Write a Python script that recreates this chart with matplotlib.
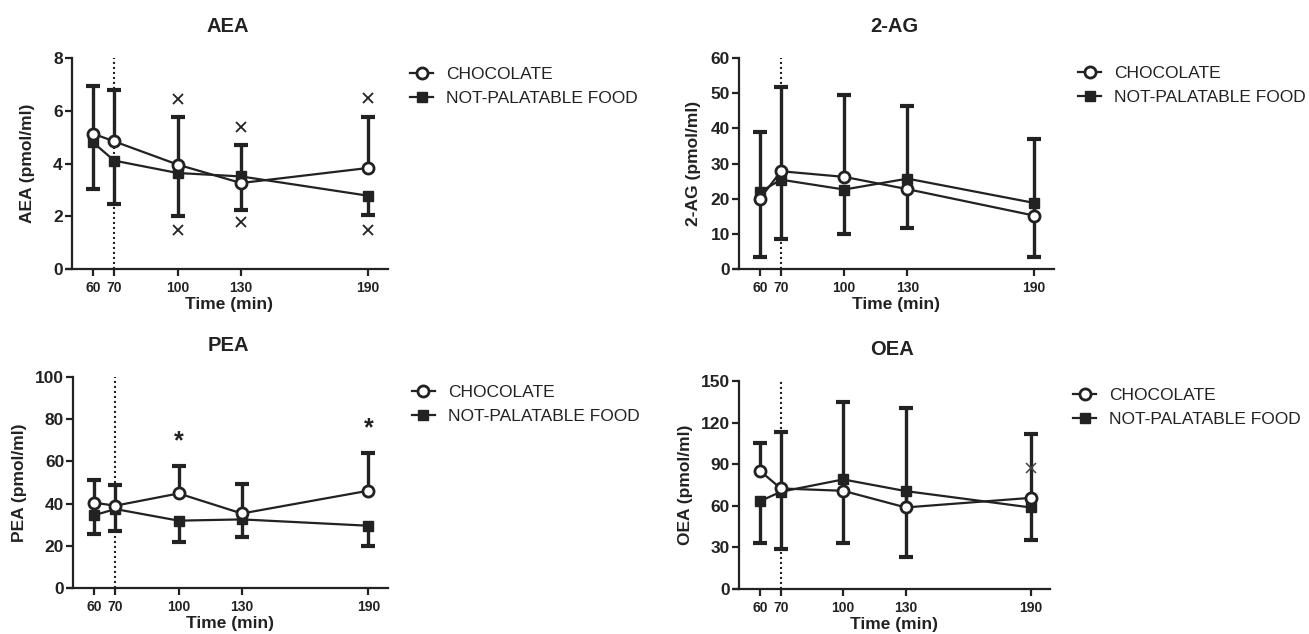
import numpy as np
import matplotlib
matplotlib.use("Agg")
import matplotlib.pyplot as plt

plt.rcParams["font.family"] = ["Liberation Sans", "DejaVu Sans"]

# shared x positions (sampling times)
times = [60, 70, 100, 130, 190]
tick_labels = ["60", "70", "100", "130", "190"]
series_names = ["CHOCOLATE", "NOT-PALATABLE FOOD"]

# AEA - chocolate error drawn upward, not-palatable error drawn downward
aea_choc = [5.13, 4.84, 3.96, 3.26, 3.83]
aea_choc_err = [1.82, 1.94, 1.81, 1.43, 1.94]
aea_np = [4.80, 4.11, 3.64, 3.51, 2.78]
aea_np_err = [1.77, 1.64, 1.62, 1.26, 0.72]
aea_cross_t = [100, 100, 130, 130, 190, 190]
aea_cross_v = [6.45, 1.49, 5.37, 1.77, 6.49, 1.49]

# 2-AG
ag_choc = [20.0, 27.8, 26.2, 22.7, 15.2]
ag_choc_err = [18.9, 23.9, 23.4, 23.7, 21.8]
ag_np = [21.9, 25.4, 22.6, 25.7, 18.8]
ag_np_err = [18.6, 16.9, 12.6, 13.9, 15.5]

# PEA
pea_choc = [40.4, 39.0, 44.8, 35.3, 46.1]
pea_choc_err = [10.8, 9.8, 13.0, 14.0, 18.1]
pea_np = [34.5, 37.4, 31.9, 32.5, 29.5]
pea_np_err = [9.1, 10.3, 10.0, 8.3, 9.5]
pea_star_t = [100, 190]
pea_star_v = [69.5, 75.5]

# OEA
oea_choc = [85.2, 72.5, 70.8, 58.8, 65.7]
oea_choc_err = [20.3, 40.9, 64.3, 71.9, 45.8]
oea_np = [63.3, 70.1, 79.0, 70.6, 58.8]
oea_np_err = [29.8, 41.4, 45.8, 47.5, 23.6]
oea_cross_t = [190]
oea_cross_v = [86.9]

ink = "#222222"


def draw_panel(ax, title, ylabel, choc, choc_err, npf, npf_err, ymax, ystep, ylab_x):
    choc = np.array(choc)
    npf = np.array(npf)

    # one-sided error bars, like the original prism graph
    ax.vlines(times, choc, choc + np.array(choc_err), color=ink, lw=2.4, zorder=2)
    ax.plot(times, choc + np.array(choc_err), ls="none", marker="_", ms=10, mew=3, color=ink, zorder=2)
    ax.vlines(times, npf - np.array(npf_err), npf, color=ink, lw=2.4, zorder=2)
    ax.plot(times, npf - np.array(npf_err), ls="none", marker="_", ms=10, mew=3, color=ink, zorder=2)

    h_np, = ax.plot(times, npf, "-s", color=ink, lw=1.6, ms=7, zorder=3)
    h_choc, = ax.plot(times, choc, "-o", color=ink, lw=1.6, ms=8, mfc="white",
                      mec=ink, mew=2, zorder=4)

    # dotted line marking the meal at 70 min
    ax.vlines(70, 0, ymax, colors=ink, lw=1.5, linestyles=(0, (1, 1.4)), zorder=1)

    ax.set_xlim(47.7, 199.5)
    ax.set_ylim(0, ymax)
    ax.spines["left"].set_position(("data", 50))
    ax.spines["top"].set_visible(False)
    ax.spines["right"].set_visible(False)
    for s in ("left", "bottom"):
        ax.spines[s].set_linewidth(1.6)
        ax.spines[s].set_color(ink)

    ax.set_xticks(times)
    ax.set_xticklabels(tick_labels, fontsize=10, fontweight="bold")
    ax.set_yticks(np.arange(0, ymax + 1, ystep))
    ax.set_yticklabels([str(v) for v in np.arange(0, ymax + 1, ystep)],
                       fontsize=12.5, fontweight="bold")
    ax.tick_params(axis="x", direction="out", length=5, width=1.6, pad=3.5, colors=ink)
    ax.tick_params(axis="y", direction="out", length=5, width=1.6, pad=1.5, colors=ink)

    ax.set_title(title, fontsize=14.5, fontweight="bold", pad=19, color=ink)
    ax.set_xlabel("Time (min)", fontsize=12.5, fontweight="bold", color=ink)
    ax.set_ylabel(ylabel, fontsize=12.5, fontweight="bold", color=ink)
    ax.xaxis.set_label_coords(0.506, -0.135)
    ax.yaxis.set_label_coords(ylab_x, 0.5)
    return h_choc, h_np


def add_legend(fig, ax, handles, x, y):
    ax.legend(handles, series_names, loc="upper left", bbox_to_anchor=(x, y),
              bbox_transform=fig.transFigure, frameon=False, fontsize=12.5,
              borderpad=0, borderaxespad=0, handlelength=1.33,
              handletextpad=0.75, labelspacing=0.48, labelcolor=ink)


fig = plt.figure(figsize=(13.09, 6.34), dpi=100)

ax1 = fig.add_axes([0.0512, 0.5757, 0.2452, 0.3328])
h = draw_panel(ax1, "AEA", "AEA (pmol/ml)", aea_choc, aea_choc_err, aea_np, aea_np_err, 8, 2, -0.10)
ax1.plot(aea_cross_t, aea_cross_v, ls="none", marker="x", ms=7, mew=1.3, color=ink)
add_legend(fig, ax1, h, 0.3132, 0.8943)

ax2 = fig.add_axes([0.5607, 0.5757, 0.2445, 0.3328])
h = draw_panel(ax2, "2-AG", "2-AG (pmol/ml)", ag_choc, ag_choc_err, ag_np, ag_np_err, 60, 10, -0.103)
add_legend(fig, ax2, h, 0.8235, 0.8959)

ax3 = fig.add_axes([0.0522, 0.0726, 0.2445, 0.3328])
h = draw_panel(ax3, "PEA", "PEA (pmol/ml)", pea_choc, pea_choc_err, pea_np, pea_np_err, 100, 20, -0.128)
for t, v in zip(pea_star_t, pea_star_v):
    ax3.text(t, v, "*", ha="center", va="center", fontsize=18, fontweight="bold", color=ink)
add_legend(fig, ax3, h, 0.3147, 0.3927)

ax4 = fig.add_axes([0.5610, 0.0710, 0.2414, 0.3281])
h = draw_panel(ax4, "OEA", "OEA (pmol/ml)", oea_choc, oea_choc_err, oea_np, oea_np_err, 150, 30, -0.13)
ax4.plot(oea_cross_t, oea_cross_v, ls="none", marker="x", ms=7, mew=1.1, color="#444444", zorder=5)
add_legend(fig, ax4, h, 0.8197, 0.3880)

fig.savefig("out.png", dpi=100)
